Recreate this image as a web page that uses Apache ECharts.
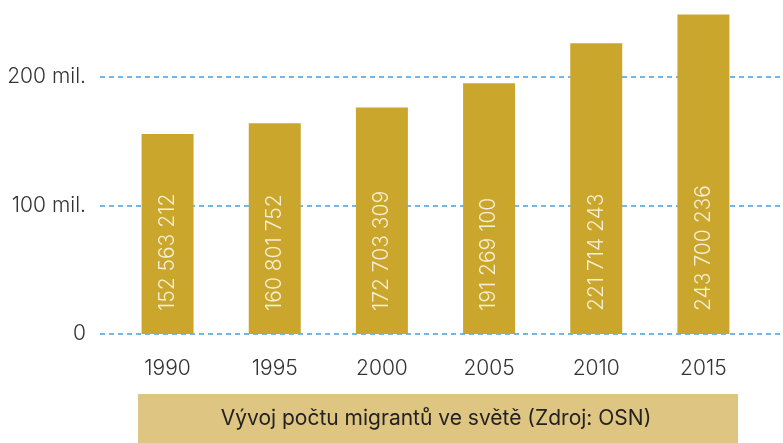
<!DOCTYPE html>
<html>
<head>
<meta charset="utf-8">
<script src="https://cdn.jsdelivr.net/npm/echarts@6/dist/echarts.min.js"></script>
<style>
  html, body { margin: 0; padding: 0; background: #fff; }
  #chart { width: 783px; height: 443px; }
</style>
</head>
<body>
<div id="chart"></div>
<script>
  // data
  var years = ['1990', '1995', '2000', '2005', '2010', '2015'];
  var migrants = [152563212, 160801752, 172703309, 191269100, 221714243, 243700236];
  var yTicks = [0, 100000000, 200000000];
  var yTickLabels = ['0', '100 mil.', '200 mil.'];
  var caption = 'Vývoj počtu migrantů ve světě (Zdroj: OSN)';

  var font = 'Inter, "Noto Sans", sans-serif';
  var chart = echarts.init(document.getElementById('chart'));

  function fmt(v) {
    return String(v).replace(/\B(?=(\d{3})+(?!\d))/g, ' ');
  }

  var option = {
    animation: false,
    grid: [
      // gridlines + y labels
      { left: 100, right: 0, top: 77, bottom: 109 },
      // bars
      { left: 114, right: 26, top: 12.75, bottom: 109 }
    ],
    xAxis: [
      { gridIndex: 0, type: 'value', show: false, min: 0, max: 1 },
      {
        gridIndex: 1, type: 'category', data: years,
        axisLine: { show: false }, axisTick: { show: false },
        axisLabel: { color: '#333', fontSize: 21, fontWeight: 300, fontFamily: font, margin: 24 }
      }
    ],
    yAxis: [
      {
        gridIndex: 0, type: 'value', min: yTicks[0], max: yTicks[yTicks.length - 1], interval: 100000000,
        axisLine: { show: false }, axisTick: { show: false },
        axisLabel: {
          color: '#333', fontSize: 21, fontWeight: 300, fontFamily: font, margin: 14,
          formatter: function (v) { return yTickLabels[yTicks.indexOf(v)]; }
        },
        splitLine: { lineStyle: { color: '#4a9fe0', width: 1.5, type: [5, 4] } }
      },
      {
        gridIndex: 1, type: 'value', min: 0, max: 245000000, show: false,
        splitLine: { show: false }
      }
    ],
    series: [{
      type: 'bar',
      xAxisIndex: 1, yAxisIndex: 1,
      data: migrants,
      barWidth: 52,
      itemStyle: { color: '#caa72c' },
      label: {
        show: true,
        position: 'insideBottom',
        distance: 23,
        rotate: 90,
        align: 'left',
        verticalAlign: 'middle',
        color: '#f6efd6',
        fontSize: 21,
        fontWeight: 300,
        fontFamily: font,
        formatter: function (p) { return fmt(p.value); }
      }
    }],
    graphic: [
      {
        type: 'rect',
        shape: { x: 138, y: 394, width: 600, height: 49 },
        style: { fill: '#dec582' }
      },
      {
        type: 'text',
        x: 436, y: 419,
        style: {
          text: caption, fill: '#222', fontSize: 21, fontFamily: font,
          align: 'center', verticalAlign: 'middle'
        }
      }
    ]
  };

  chart.setOption(option);
</script>
</body>
</html>
